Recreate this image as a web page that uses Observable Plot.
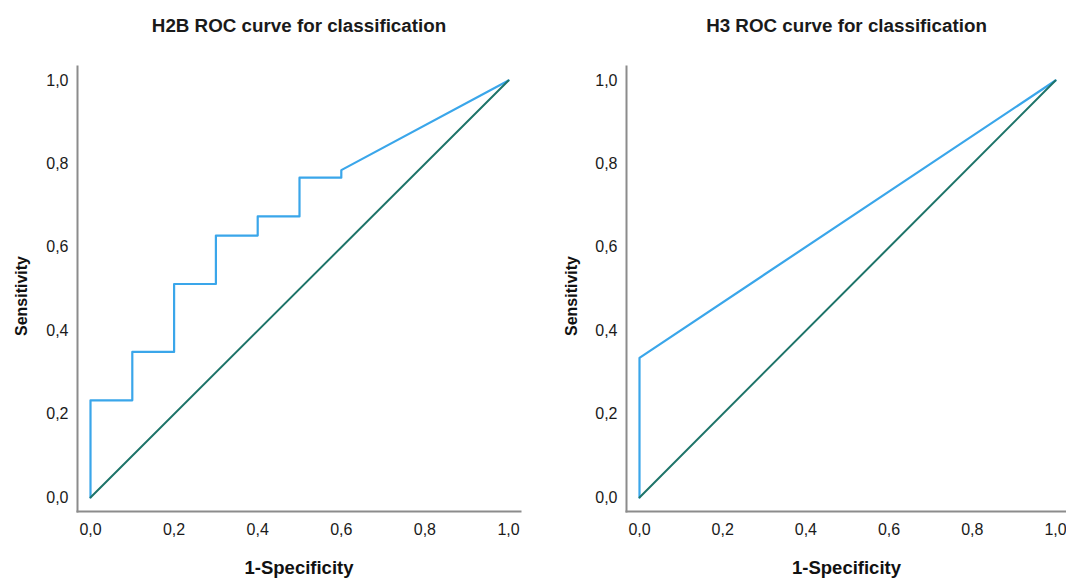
<!DOCTYPE html>
<html>
<head>
<meta charset="utf-8">
<script src="https://cdn.jsdelivr.net/npm/d3@7"></script>
<script src="https://cdn.jsdelivr.net/npm/@observablehq/plot@0.6"></script>
<style>
  html, body { margin: 0; padding: 0; background: #fff; }
  #wrap { position: relative; width: 1066px; height: 578px; overflow: hidden; }
  #left, #right { position: absolute; top: 0; }
  #left { left: 0; }
  #right { left: 533px; }
</style>
</head>
<body>
<div id="wrap"><div id="left"></div><div id="right"></div></div>
<script>
const titles = ["H2B ROC curve for classification", "H3 ROC curve for classification"];
const xLabel = "1-Specificity";
const yLabel = "Sensitivity";
const tickValues = [0, 0.2, 0.4, 0.6, 0.8, 1.0];

// H2B ROC points (1-specificity, sensitivity)
const h2bFpr = [0, 0, 0.1, 0.1, 0.2, 0.2, 0.3, 0.3, 0.4, 0.4, 0.5, 0.5, 0.6, 0.6, 1.0];
const h2bTpr = [0, 0.233, 0.233, 0.349, 0.349, 0.512, 0.512, 0.628, 0.628, 0.674, 0.674, 0.767, 0.767, 0.785, 1.0];

// H3 ROC points
const h3Fpr = [0, 0, 1.0];
const h3Tpr = [0, 0.335, 1.0];

// Reference line
const refFpr = [0, 1];
const refTpr = [0, 1];

const blue = "#3aa6ea";
const teal = "#1e7469";
const axisGray = "#8c8c8c";
const fmt = d => d.toFixed(1).replace(".", ",");

function rocChart(title, fpr, tpr, m) {
  const pts = fpr.map((x, i) => ({x, y: tpr[i]}));
  const ref = refFpr.map((x, i) => ({x, y: refTpr[i]}));
  return Plot.plot({
    width: 533,
    height: 578,
    marginLeft: m.left,
    marginRight: m.right,
    marginTop: 66,
    marginBottom: 67,
    style: {fontFamily: "'Liberation Sans', Arial, sans-serif", background: "#fff", color: "#1a1a1a"},
    x: {domain: [0, 1], insetLeft: 13, insetRight: m.insetRight},
    y: {domain: [0, 1], insetTop: 14, insetBottom: 14},
    marks: [
      Plot.axisX({ticks: tickValues, tickFormat: fmt, tickSize: 0, tickPadding: 12, label: null, fontSize: 16}),
      Plot.axisY({ticks: tickValues, tickFormat: fmt, tickSize: 0, tickPadding: 9, label: null, fontSize: 16}),
      Plot.frame({anchor: "left", stroke: axisGray, strokeWidth: 2}),
      Plot.frame({anchor: "bottom", stroke: axisGray, strokeWidth: 2}),
      Plot.line(pts, {x: "x", y: "y", stroke: blue, strokeWidth: 2.2, curve: "linear"}),
      Plot.line(ref, {x: "x", y: "y", stroke: teal, strokeWidth: 2}),
      Plot.text([title], {frameAnchor: "top", dy: -41, text: d => d, fontSize: 18.8, fontWeight: "bold", fill: "#1a1a1a", lineAnchor: "middle", textAnchor: "middle"}),
      Plot.text([xLabel], {frameAnchor: "bottom", dy: 57, text: d => d, fontSize: 18.5, fontWeight: "bold", fill: "#111", lineAnchor: "middle", textAnchor: "middle"}),
      Plot.text([yLabel], {frameAnchor: "left", dx: m.ylab, dy: 7, text: d => d, rotate: -90, fontSize: 16, fontWeight: "bold", fill: "#111", lineAnchor: "middle", textAnchor: "middle"})
    ]
  });
}

document.getElementById("left").append(
  rocChart(titles[0], h2bFpr, h2bTpr, {left: 77, right: 13, insetRight: 12, ylab: -56})
);
document.getElementById("right").append(
  rocChart(titles[1], h3Fpr, h3Tpr, {left: 93, right: 0, insetRight: 11, ylab: -55})
);
</script>
</body>
</html>
